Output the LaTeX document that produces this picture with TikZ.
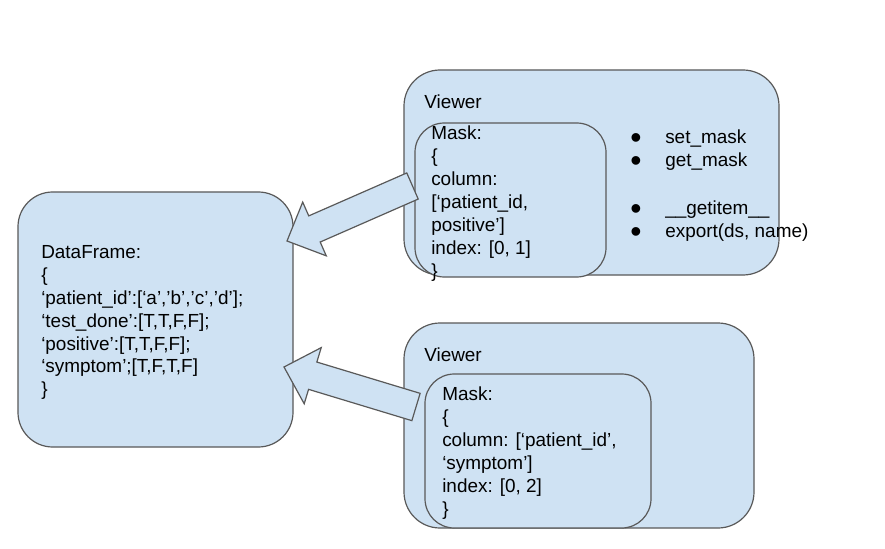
\documentclass[tikz,border=0pt]{standalone}
\usepackage{fontspec}
\setmainfont{Liberation Sans}
\usetikzlibrary{positioning, fit, calc}
\definecolor{boxblue}{RGB}{207,226,243}
\definecolor{linegray}{RGB}{89,89,89}

\newcommand{\itm}[1]{\makebox[26.25pt][l]{\smash{\raisebox{-3.6pt}{\fontsize{24}{17}\selectfont\textbullet}}}#1}

\begin{document}
\begin{tikzpicture}[x=0.75pt, y=-0.75pt,
  box/.style={draw=linegray, fill=boxblue, line width=0.9pt, inner sep=0pt},
  txt/.style={anchor=north west, inner sep=0pt, align=left, font=\fontsize{14.2}{17.2}\selectfont},
  fatarrow/.style={draw=linegray, fill=boxblue, line width=0.9pt, line join=miter,
    to path={($(\tikztostart)!10.7pt!90:(\tikztotarget)$)
      -- ($($(\tikztotarget)!22.5pt!(\tikztostart)$)!10.7pt!90:(\tikztotarget)$)
      -- ($($(\tikztotarget)!22.5pt!(\tikztostart)$)!22pt!90:(\tikztotarget)$)
      -- (\tikztotarget)
      -- ($($(\tikztotarget)!22.5pt!(\tikztostart)$)!22pt!-90:(\tikztotarget)$)
      -- ($($(\tikztotarget)!22.5pt!(\tikztostart)$)!10.7pt!-90:(\tikztotarget)$)
      -- ($(\tikztostart)!10.7pt!-90:(\tikztotarget)$) -- cycle}}]
  \fill[white] (0,0) rectangle (885,549);
  \useasboundingbox (0,0) rectangle (885,549);

  % data frame
  \node[box, rounded corners=26pt, fit={(18,192) (293,447)}] (df) {};
  \node[txt] (dftext) at (41,245) {DataFrame:\\ \{\\ ‘patient\_id’:[‘a’,’b’,’c’,’d’];\\ ‘test\_done’:[T,T,F,F];\\ ‘positive’:[T,T,F,F];\\ ‘symptom’;[T,F,T,F]\\ \}};

  % first viewer
  \node[box, rounded corners=27pt, fit={(404,70) (779,275)}] (view1) {};
  \node[txt] (view1lbl) at (424,95) {Viewer};
  \node[box, rounded corners=22pt, fit={(415,123) (606,277)}] (mask1) {};
  \node[txt] (mask1text) at (431,126) {Mask:\\ \{\\ column:\\ {[}‘patient\_id,\\ positive’]\\ index: [0, 1]\\ \}};
  \node[txt] (methods) at (630,130) {\itm{set\_mask}\\ \itm{get\_mask}\\[18.8pt] \itm{\_\_getitem\_\_}\\ \itm{export(ds, name)}};

  % second viewer
  \node[box, rounded corners=27pt, fit={(404,323) (754,528)}] (view2) {};
  \node[txt] (view2lbl) at (424,348) {Viewer};
  \node[box, rounded corners=22pt, fit={(425,374) (651,528)}] (mask2) {};
  \node[txt] (mask2text) at (442,387) {Mask:\\ \{\\ column: [‘patient\_id’,\\ ‘symptom’]\\ index: [0, 2]\\ \}};

  % arrows back to the data frame
  \coordinate (tail1) at (412.5,186);
  \coordinate (tip1) at (287,241);
  \coordinate (tail2) at (416,407);
  \coordinate (tip2) at (284,367);
  \draw[fatarrow] (tail1) to (tip1);
  \draw[fatarrow] (tail2) to (tip2);
\end{tikzpicture}
\end{document}
